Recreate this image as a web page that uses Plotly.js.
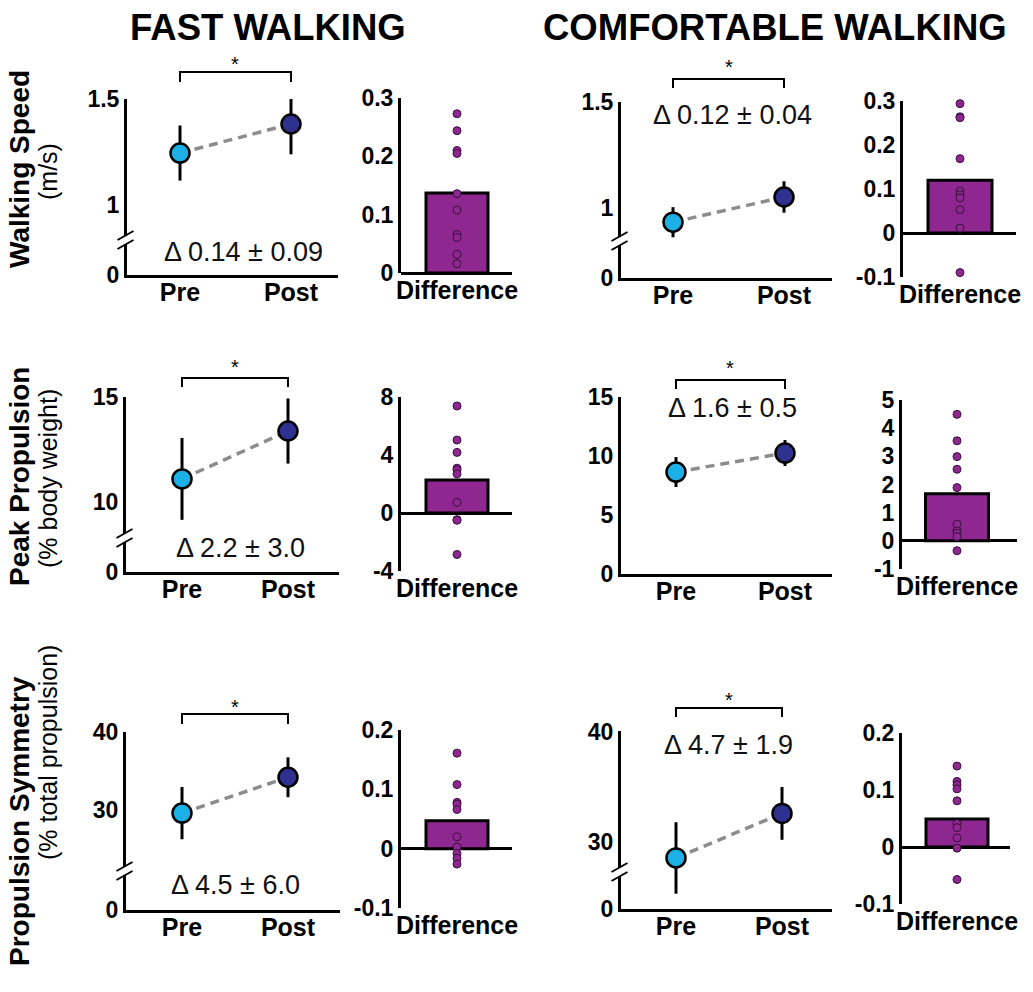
<!DOCTYPE html>
<html><head><meta charset="utf-8">
<script src="https://cdn.plot.ly/plotly-3.0.1.min.js"></script>
<style>html,body{margin:0;padding:0;background:#fff}#chart{width:1033px;height:992px}</style>
</head><body><div id="chart"></div>
<script>
// ---------------- data ----------------
const phases = ['Pre', 'Post'];
const diffCategory = ['Difference'];

const colTitles = ['FAST WALKING', 'COMFORTABLE WALKING'];
const rowTitles = ['Walking Speed', 'Peak Propulsion', 'Propulsion Symmetry'];
const rowUnits = ['(m/s)', '(% body weight)', '(% total propulsion)'];

// Walking speed (m/s)
const speedFastMean = [1.245, 1.382];
const speedFastSD = [0.13, 0.143];
const speedFastDiffBar = [0.137];
const speedFastDiffPts = [0.273, 0.244, 0.210, 0.205, 0.136, 0.108, 0.066, 0.061, 0.032, 0.016];
const speedComfMean = [0.933, 1.052];
const speedComfSD = [0.071, 0.074];
const speedComfDiffBar = [0.12];
const speedComfDiffPts = [0.294, 0.264, 0.262, 0.169, 0.095, 0.087, 0.080, 0.053, 0.011, -0.090];

// Peak propulsion (% body weight)
const propFastMean = [11.1, 13.38];
const propFastSD = [1.95, 1.55];
const propFastDiffBar = [2.28];
const propFastDiffPts = [7.38, 5.03, 4.18, 3.09, 2.97, 2.70, 0.73, -0.46, -0.50, -2.86];
const propComfMean = [8.64, 10.25];
const propComfSD = [1.27, 1.10];
const propComfDiffBar = [1.67];
const propComfDiffPts = [4.49, 3.55, 2.99, 2.54, 1.89, 0.59, 0.35, 0.27, 0.15, -0.35];

// Propulsion symmetry (% total propulsion)
const symFastMean = [29.6, 34.2];
const symFastSD = [3.35, 2.55];
const symFastDiffBar = [0.047];
const symFastDiffPts = [0.161, 0.108, 0.078, 0.075, 0.066, 0.020, 0.003, -0.008, -0.016, -0.026];
const symComfMean = [28.55, 32.6];
const symComfSD = [3.25, 2.4];
const symComfDiffBar = [0.049];
const symComfDiffPts = [0.142, 0.115, 0.109, 0.102, 0.081, 0.041, 0.034, 0.016, -0.002, -0.057];

// delta labels
const deltaLabels = ['Δ 0.14 ± 0.09', 'Δ 0.12 ± 0.04', 'Δ 2.2 ± 3.0', 'Δ 1.6 ± 0.5', 'Δ 4.5 ± 6.0', 'Δ 4.7 ± 1.9'];

// tick values / labels
const speedTickVals = [1, 1.5];           const speedTickText = ['1', '1.5'];
const propFastTickVals = [10, 15];        const propFastTickText = ['10', '15'];
const propComfTickVals = [0, 5, 10, 15];  const propComfTickText = ['0', '5', '10', '15'];
const symTickVals = [30, 40];             const symTickText = ['30', '40'];
const brokenZeroText = '0';
const speedDiffFastTV = [0, 0.1, 0.2, 0.3];        const speedDiffFastTT = ['0', '0.1', '0.2', '0.3'];
const speedDiffComfTV = [-0.1, 0, 0.1, 0.2, 0.3];  const speedDiffComfTT = ['-0.1', '0', '0.1', '0.2', '0.3'];
const propDiffFastTV = [-4, 0, 4, 8];              const propDiffFastTT = ['-4', '0', '4', '8'];
const propDiffComfTV = [-1, 0, 1, 2, 3, 4, 5];     const propDiffComfTT = ['-1', '0', '1', '2', '3', '4', '5'];
const symDiffTV = [-0.1, 0, 0.1, 0.2];             const symDiffTT = ['-0.1', '0', '0.1', '0.2'];

// ---------------- styling / layout ----------------
const W = 1033, H = 992;
const FONT = '"Liberation Sans", Arial, Helvetica, sans-serif';
const NARROW = '"Liberation Sans Narrow", "Arial Narrow", "Liberation Sans", sans-serif';
const PRE_C = '#1bb1e7', POST_C = '#2e3190', PURPLE = '#8e2790';
const px = v => v / W, py = v => 1 - v / H;

// pre/post panels: pixel box, category pixel positions, two y reference pairs
const ppPanels = [
  {mean: speedFastMean, sd: speedFastSD, L:127, R:338, T:99,  B:275, c0:180, c1:291, yA:[99,1.5],  yB:[205,1], tv: speedTickVals, tt: speedTickText, brk:240, star:[235,62],  br:[72,82],  dl:[243,252], d:0},
  {mean: speedComfMean, sd: speedComfSD, L:621, R:832, T:102, B:278, c0:673, c1:784, yA:[102,1.5], yB:[208,1], tv: speedTickVals, tt: speedTickText, brk:241, star:[729,65],  br:[79,88],  dl:[732,115], d:1},
  {mean: propFastMean,  sd: propFastSD,  L:126, R:339, T:397, B:572, c0:182, c1:288, yA:[397,15],  yB:[502,10], tv: propFastTickVals, tt: propFastTickText, brk:538, star:[235,365], br:[378,387], dl:[240,548], d:2},
  {mean: propComfMean,  sd: propComfSD,  L:621, R:832, T:397, B:574, c0:676, c1:785, yA:[397,15],  yB:[574,0], tv: propComfTickVals, tt: propComfTickText, brk:null, star:[730,366], br:[380,389], dl:[732,408], d:3},
  {mean: symFastMean,   sd: symFastSD,   L:126, R:340, T:732, B:910, c0:182, c1:288, yA:[732,40],  yB:[810,30], tv: symTickVals, tt: symTickText, brk:871, star:[235,705], br:[714,724], dl:[235,885], d:4},
  {mean: symComfMean,   sd: symComfSD,   L:621, R:832, T:731, B:909, c0:676, c1:782, yA:[732,40],  yB:[842,30], tv: symTickVals, tt: symTickText, brk:872, star:[729,698], br:[708,717], dl:[728,745], d:5},
];
const diffPanels = [
  {bar: speedFastDiffBar, pts: speedFastDiffPts, L:401, R:512, T:98,  B:273, cx:457, bw:62, rng:[0,0.3],  tv: speedDiffFastTV, tt: speedDiffFastTT},
  {bar: speedComfDiffBar, pts: speedComfDiffPts, L:903, R:1016, T:101, B:277, cx:960, bw:64, rng:[-0.1,0.3], tv: speedDiffComfTV, tt: speedDiffComfTT},
  {bar: propFastDiffBar,  pts: propFastDiffPts,  L:401, R:512, T:397, B:571, cx:457, bw:62, rng:[-4,8],   tv: propDiffFastTV, tt: propDiffFastTT},
  {bar: propComfDiffBar,  pts: propComfDiffPts,  L:902, R:1017, T:400, B:569, cx:957, bw:63, rng:[-1,5],  tv: propDiffComfTV, tt: propDiffComfTT},
  {bar: symFastDiffBar,   pts: symFastDiffPts,   L:401, R:512, T:730, B:908, cx:457, bw:62, rng:[-0.1,0.2], tv: symDiffTV, tt: symDiffTT},
  {bar: symComfDiffBar,   pts: symComfDiffPts,   L:902, R:1010, T:733, B:904, cx:957, bw:62, rng:[-0.1,0.2], tv: symDiffTV, tt: symDiffTT},
];

const traces = [], shapes = [], annotations = [];
const layout = {
  width: W, height: H, margin: {l:0, r:0, t:0, b:0}, showlegend: false,
  paper_bgcolor: '#fff', plot_bgcolor: 'rgba(0,0,0,0)', font: {family: FONT, color: '#000'},
};
const tickFont = {family: FONT, size: 23, weight: 'bold', color: '#000'};
const catFont = {family: FONT, size: 25, weight: 'bold', color: '#000'};
let n = 0;
function axisBase() {
  return {showgrid: false, zeroline: false, ticks: '', fixedrange: true, linecolor: '#000', linewidth: 3};
}
ppPanels.forEach(p => {
  n++;
  const xa = 'xaxis' + n, ya = 'yaxis' + n, xs = 'x' + n, ys = 'y' + n;
  const unit = p.c1 - p.c0;
  const scale = (p.yB[0] - p.yA[0]) / (p.yA[1] - p.yB[1]);
  const val = q => p.yA[1] + (p.yA[0] - q) / scale;
  const yr = [val(p.B), val(p.T)];
  const broken = p.brk !== null;
  layout[xa] = Object.assign(axisBase(), {
    domain: [px(p.L), px(p.R)], anchor: ys, type: 'category',
    categoryorder: 'array', categoryarray: phases,
    range: [-(p.c0 - p.L) / unit, 1 + (p.R - p.c1) / unit],
    showline: true, tickfont: catFont, ticklabelstandoff: -7,
  });
  layout[ya] = Object.assign(axisBase(), {
    domain: [py(p.B), py(p.T)], anchor: xs, range: yr, showline: true,
    tickvals: broken ? [yr[0]].concat(p.tv) : p.tv,
    ticktext: broken ? [brokenZeroText].concat(p.tt) : p.tt,
    tickfont: tickFont, ticklabelstandoff: 0,
  });
  traces.push({
    type: 'scatter', mode: 'lines+markers', x: phases, y: p.mean, xaxis: xs, yaxis: ys,
    cliponaxis: false, hoverinfo: 'skip',
    line: {color: '#8c8c8c', width: 3.5, dash: '9px,6px'},
    marker: {size: 19, color: [PRE_C, POST_C], line: {color: '#000', width: 2.5}},
    error_y: {type: 'data', array: p.sd, visible: true, color: '#000', thickness: 3, width: 0},
  });
  // broken axis mark
  if (broken) {
    const lc = p.L - 1.5, b = p.brk;
    shapes.push({type: 'rect', xref: 'paper', yref: 'paper', x0: px(lc - 3), x1: px(lc + 3), y0: py(b + 4), y1: py(b - 4),
      fillcolor: '#fff', line: {width: 0}, layer: 'above'});
    [4.5, -4.5].forEach(o => {
      shapes.push({type: 'line', xref: 'paper', yref: 'paper', x0: px(lc - 8), y0: py(b + o + 4.5), x1: px(lc + 8), y1: py(b + o - 4.5),
        line: {color: '#000', width: 2}, layer: 'above'});
    });
  }
  // significance bracket
  shapes.push({type: 'path', xref: 'paper', yref: 'paper',
    path: `M ${px(p.c0)} ${py(p.br[1])} L ${px(p.c0)} ${py(p.br[0])} L ${px(p.c1)} ${py(p.br[0])} L ${px(p.c1)} ${py(p.br[1])}`,
    line: {color: '#000', width: 2}});
  annotations.push({xref: 'paper', yref: 'paper', x: px(p.star[0]), y: py(p.star[1] + 2), text: '*', showarrow: false,
    xanchor: 'center', yanchor: 'middle', font: {family: FONT, size: 20, color: '#000'}});
  annotations.push({xref: 'paper', yref: 'paper', x: px(p.dl[0]), y: py(p.dl[1]), text: deltaLabels[p.d], showarrow: false,
    xanchor: 'center', yanchor: 'middle', font: {family: FONT, size: 27, color: '#111'}});
});
diffPanels.forEach(p => {
  n++;
  const xa = 'xaxis' + n, ya = 'yaxis' + n, xs = 'x' + n, ys = 'y' + n;
  layout[xa] = Object.assign(axisBase(), {
    domain: [px(p.L), px(p.R)], anchor: ys, type: 'category',
    range: [-(p.cx - p.L) / p.bw, (p.R - p.cx) / p.bw], showline: false,
    tickfont: catFont, ticklabelstandoff: 0,
  });
  layout[ya] = Object.assign(axisBase(), {
    domain: [py(p.B), py(p.T)], anchor: xs, range: p.rng, showline: true,
    zeroline: true, zerolinecolor: '#000', zerolinewidth: 3,
    tickvals: p.tv, ticktext: p.tt, tickfont: tickFont, ticklabelstandoff: 0,
  });
  traces.push({
    type: 'bar', x: diffCategory, y: p.bar, width: [1], xaxis: xs, yaxis: ys, hoverinfo: 'skip',
    marker: {color: PURPLE, line: {color: '#000', width: 3}},
  });
  traces.push({
    type: 'scatter', mode: 'markers', x: p.pts.map(() => diffCategory[0]), y: p.pts, xaxis: xs, yaxis: ys,
    cliponaxis: false, hoverinfo: 'skip',
    marker: {size: 8, color: PURPLE, line: {color: '#3b1040', width: 1}},
  });
});

// column titles
[[268, 28], [775, 28]].forEach(([x, y], i) => annotations.push({
  xref: 'paper', yref: 'paper', x: px(x), y: py(y), text: colTitles[i], showarrow: false,
  xanchor: 'center', yanchor: 'middle', font: {family: FONT, size: 36.5, weight: 'bold', color: '#000'}}));
// row titles
[[169, 172], [477, 479], [821, 753]].forEach(([yt, yu], i) => {
  annotations.push({xref: 'paper', yref: 'paper', x: px(19), y: py(yt), text: rowTitles[i], showarrow: false, textangle: -90,
    xanchor: 'center', yanchor: 'middle', font: {family: NARROW, size: 28, weight: 'bold', color: '#000'}});
  annotations.push({xref: 'paper', yref: 'paper', x: px(48), y: py(yu), text: rowUnits[i], showarrow: false, textangle: -90,
    xanchor: 'center', yanchor: 'middle', font: {family: NARROW, size: 25, color: '#000'}});
});

layout.shapes = shapes;
layout.annotations = annotations;
Plotly.newPlot('chart', traces, layout, {displayModeBar: false, staticPlot: true});
</script>
</body></html>
